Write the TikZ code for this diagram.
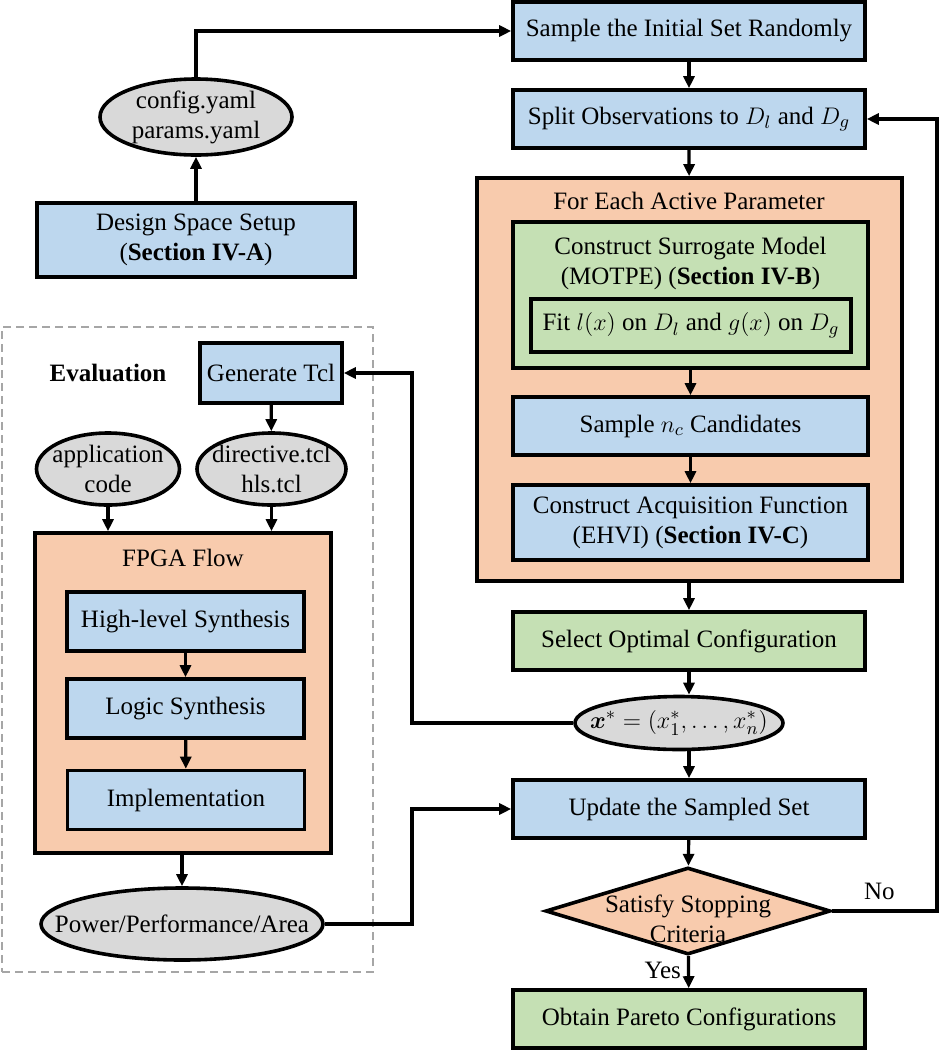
\documentclass[tikz,border=0pt]{standalone}
\usepackage{fontspec}
\usepackage{amsmath}
\setmainfont{Liberation Serif}
\usetikzlibrary{shapes.geometric,arrows.meta,positioning}

\definecolor{boxblue}{HTML}{BDD7EE}
\definecolor{boxorange}{HTML}{F8CBAD}
\definecolor{boxgreen}{HTML}{C5E0B4}
\definecolor{boxgray}{HTML}{D9D9D9}

\tikzset{
    base/.style={draw=black, line width=1.8pt, align=center, inner sep=0pt, font=\fontsize{12.5}{15}\selectfont},
    bluebox/.style={base, rectangle, fill=boxblue},
    greenbox/.style={base, rectangle, fill=boxgreen},
    orangebox/.style={base, rectangle, fill=boxorange},
    oval/.style={base, ellipse, fill=boxgray},
    decision/.style={base, diamond, fill=boxorange},
    txt/.style={align=center, inner sep=0pt, font=\fontsize{12.5}{15}\selectfont},
    dashframe/.style={draw=gray!70, line width=0.9pt, dash pattern=on 4pt off 2.5pt},
    arr/.style={line width=1.6pt, -{Triangle[length=6pt,width=5.5pt]}},
}

\begin{document}
\begin{tikzpicture}[x=0.5pt, y=-0.5pt]
    \useasboundingbox (0,0) rectangle (940,1051);

    % containers
    \node[dashframe, minimum width=185.5pt, minimum height=322.5pt] (evalframe) at (187.5,649.5) {};
    \node[orangebox, minimum width=212.5pt, minimum height=201.5pt] (loop) at (689.5,379.5) {};
    \node[orangebox, minimum width=148pt, minimum height=160pt] (fpga) at (183,693) {};

    % right column
    \node[bluebox, minimum width=176pt, minimum height=29pt] (init) at (689,31) {Sample the Initial Set Randomly};
    \node[bluebox, minimum width=176pt, minimum height=29pt] (split) at (689,119) {Split Observations to $D_l$ and $D_g$};
    \node[txt] (looptitle) at (689,201) {For Each Active Parameter};
    \node[greenbox, minimum width=177.5pt, minimum height=73pt] (surrogate) at (690.5,295) {};
    \node[txt] (surrogatetext) at (690.5,263) {Construct Surrogate Model\\(MOTPE) (\textbf{Section IV-B})};
    \node[greenbox, minimum width=160pt, minimum height=26.5pt] (fit) at (691,325.5) {Fit $l(x)$ on $D_l$ and $g(x)$ on $D_g$};
    \node[bluebox, minimum width=177.5pt, minimum height=29pt] (cand) at (690.5,426) {Sample $n_c$ Candidates};
    \node[bluebox, minimum width=177.5pt, minimum height=37.5pt] (acq) at (690.5,522.5) {Construct Acquisition Function\\(EHVI) (\textbf{Section IV-C})};
    \node[greenbox, minimum width=176pt, minimum height=29pt] (select) at (689,641) {Select Optimal Configuration};
    \node[oval, minimum width=104pt, minimum height=26.5pt] (xstar) at (679,723) {};
    \node[txt] (xstartext) at (xstar) {$\boldsymbol{x}^{*} = (x_1^{*}, \ldots, x_n^{*})$};
    \node[bluebox, minimum width=176pt, minimum height=29pt] (update) at (689,809) {Update the Sampled Set};
    \node[decision, minimum width=142.5pt, minimum height=43.5pt] (crit) at (688,911) {};
    \node[txt] (crittext) at (688,919) {Satisfy Stopping\\Criteria};
    \node[greenbox, minimum width=176pt, minimum height=29pt] (pareto) at (689,1019) {Obtain Pareto Configurations};

    % left column
    \node[bluebox, minimum width=159pt, minimum height=37pt] (design) at (196,240) {Design Space Setup\\(\textbf{Section IV-A})};
    \node[oval, minimum width=96pt, minimum height=38pt] (config) at (196,117) {};
    \node[txt] (configtext) at (config) {config.yaml\\params.yaml};
    \node[txt] (evaltitle) at (108,373) {\textbf{Evaluation}};
    \node[bluebox, minimum width=71pt, minimum height=30pt] (gentcl) at (271,373) {Generate Tcl};
    \node[oval, minimum width=71.5pt, minimum height=36pt] (appcode) at (108,469) {};
    \node[txt] (appcodetext) at (appcode) {application\\code};
    \node[oval, minimum width=74.5pt, minimum height=36pt] (directive) at (271.5,469) {};
    \node[txt] (directivetext) at (directive) {directive.tcl\\hls.tcl};
    \node[txt] (fpgatitle) at (183,558) {FPGA Flow};
    \node[bluebox, minimum width=118.5pt, minimum height=29.5pt] (hls) at (185.5,621.5) {High-level Synthesis};
    \node[bluebox, minimum width=118.5pt, minimum height=29.5pt] (logic) at (185.5,708.5) {Logic Synthesis};
    \node[bluebox, minimum width=118.5pt, minimum height=29.5pt] (impl) at (186,800) {Implementation};
    \node[oval, minimum width=141pt, minimum height=36pt] (ppa) at (182,924) {};
    \node[txt] (ppatext) at (ppa) {Power/Performance/Area};

    \coordinate (tclbend) at (412,373);
    \coordinate (ppabend) at (412,809);
    \coordinate (nobend) at (937,911);

    % connectors
    \draw[arr] (init) -- (split);
    \draw[arr] (split) -- (loop);
    \draw[arr] (surrogate) -- (cand);
    \draw[arr] (cand) -- (acq);
    \draw[arr] (loop.south -| select.north) -- (select);
    \draw[arr] (select.south) -- (select.south |- xstar.north);
    \draw[arr] (xstar.south -| update.north) -- (update);
    \draw[arr] (update) -- (crit);
    \draw[arr] (crit) -- node[txt, left=3pt, pos=0.45] {Yes} (pareto);
    \draw[arr] (crit.east) -- node[txt, above=5pt, pos=0.45] {No} (nobend) |- (split.east);

    \draw[arr] (design) -- (config);
    \draw[arr] (config.north) |- (init.west);
    \draw[arr] (xstar.west) -| (tclbend) -- (gentcl.east);
    \draw[arr] (gentcl) -- (directive);
    \draw[arr] (appcode.south) -- (appcode.south |- fpga.north);
    \draw[arr] (directive.south) -- (directive.south |- fpga.north);
    \draw[arr] (hls) -- (logic);
    \draw[arr] (logic) -- (impl);
    \draw[arr] (fpga.south -| ppa.north) -- (ppa);
    \draw[arr] (ppa.east) -| (ppabend) -- (update.west);
\end{tikzpicture}
\end{document}
